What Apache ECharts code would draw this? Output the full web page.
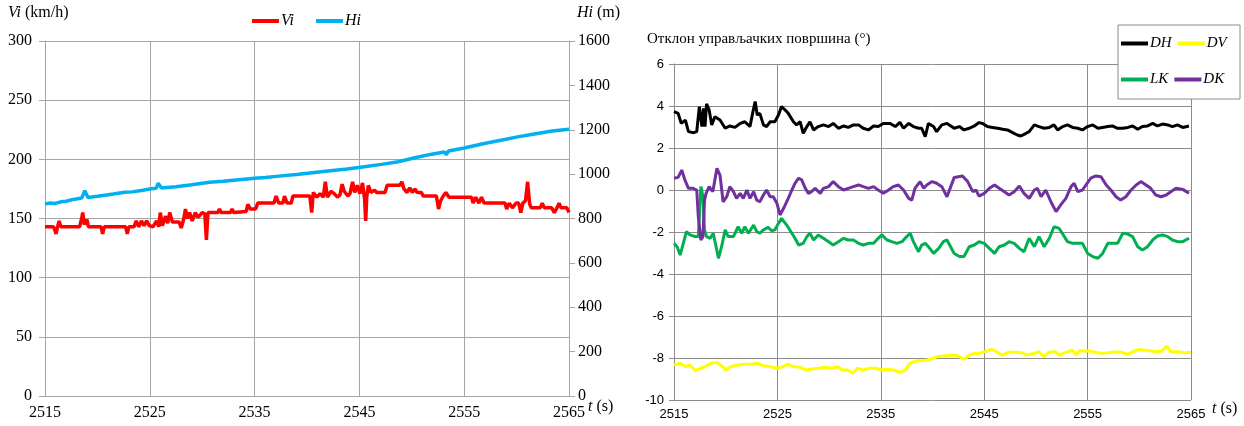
<!DOCTYPE html>
<html>
<head>
<meta charset="utf-8">
<script src="https://cdn.jsdelivr.net/npm/echarts@6/dist/echarts.min.js"></script>
<style>html,body{margin:0;padding:0;background:#fff}#c{width:1244px;height:426px}</style>
</head>
<body>
<div id="c"></div>
<script>
const xTicks = [2515, 2525, 2535, 2545, 2555, 2565];

const viData = [[2515,143],[2515.8,143],[2515.95,140],[2516.05,137],[2516.2,143],[2516.35,148],[2516.5,143],[2518.3,143],[2518.5,150],[2518.6,155],[2518.75,145],[2519,149],[2519.15,143],[2520.35,143],[2520.5,137],[2520.65,143],[2522.7,143],[2522.85,137],[2523,143],[2523.5,143],[2523.7,148],[2523.95,143],[2524.2,148],[2524.45,144],[2524.7,148],[2524.95,144],[2525.3,143],[2525.65,148],[2525.85,143],[2526,155],[2526.2,144],[2526.5,152],[2526.7,146],[2526.9,155],[2527.15,147],[2527.8,147],[2528,142],[2528.25,150],[2528.4,158],[2528.6,150],[2528.8,155],[2529.05,148],[2529.35,155],[2529.6,151],[2530,155],[2530.25,154],[2530.4,132],[2530.55,155],[2531.5,155],[2531.65,158],[2531.8,155],[2532.7,155],[2532.85,158],[2533,155],[2534.2,156],[2534.35,162],[2534.6,158],[2535.1,158],[2535.3,163],[2536.85,163],[2537.05,169],[2537.3,163],[2537.7,163],[2537.85,169],[2538.1,163],[2538.5,163],[2538.65,169],[2540.27,169],[2540.45,155],[2540.6,172],[2540.95,168],[2541.25,171],[2541.55,168],[2541.75,181],[2541.95,168],[2542.3,173],[2542.6,171],[2542.9,168],[2543.15,170],[2543.35,179],[2543.55,173],[2543.9,169],[2544.1,171],[2544.35,181],[2544.55,172],[2544.8,178],[2545.05,171],[2545.3,180],[2545.5,166],[2545.6,148],[2545.7,168],[2545.85,178],[2546.1,172],[2546.45,174],[2546.65,172],[2547.45,172],[2547.65,178],[2548.85,178],[2549.05,181],[2549.25,175],[2549.55,172],[2549.8,176],[2550.05,172],[2550.3,175],[2550.5,172],[2550.9,172],[2551.1,169],[2552.35,169],[2552.55,158],[2552.75,165],[2553,169],[2553.25,172],[2553.55,168],[2555.7,168],[2555.85,163],[2556.1,168],[2556.4,163],[2556.65,168],[2556.9,163],[2558.9,163],[2559.05,158],[2559.3,163],[2559.6,159],[2559.95,163],[2560.2,163],[2560.4,155],[2560.6,163],[2560.85,165],[2561.05,181],[2561.25,162],[2561.4,159],[2562.25,159],[2562.45,163],[2562.65,159],[2563.35,159],[2563.6,155],[2563.85,159],[2564.05,163],[2564.25,159],[2564.8,159],[2565,155]];

const hiData = [[2515,866],[2515.5,870],[2516,868],[2516.5,875],[2517,878],[2517.7,886],[2518.5,892],[2518.8,925],[2519.1,895],[2520,900],[2520.9,906],[2521.5,910],[2522.6,918],[2523.3,920],[2524.2,926],[2525,933],[2525.6,936],[2525.8,959],[2526.1,938],[2527.5,943],[2529,952],[2530.7,963],[2532,968],[2533.5,975],[2535,981],[2536,985],[2537.3,991],[2539,998],[2540.5,1006],[2542,1014],[2543.8,1023],[2545.1,1031],[2547.1,1044],[2548.7,1056],[2550.3,1074],[2551.9,1090],[2553.1,1100],[2553.3,1088],[2553.5,1104],[2555,1118],[2556.8,1137],[2558.5,1153],[2560.1,1168],[2561.7,1181],[2563.4,1194],[2565,1202]];

const dhData = [[2515,3.73],[2515.4,3.65],[2515.7,3.17],[2516.1,3.33],[2516.4,2.78],[2516.9,2.73],[2517.2,2.78],[2517.45,3.97],[2517.7,3.02],[2517.85,3.89],[2518,3.02],[2518.15,4.1],[2518.4,3.81],[2518.65,3.1],[2518.95,3.49],[2519.45,3.33],[2519.95,2.94],[2520.4,3.05],[2520.9,2.98],[2521.4,3.17],[2521.85,3.25],[2522.35,3.02],[2522.6,3.65],[2522.85,4.21],[2523.05,3.57],[2523.3,3.65],[2523.65,3.1],[2523.95,3.02],[2524.3,3.25],[2524.75,3.25],[2525.1,3.57],[2525.4,3.97],[2525.75,3.81],[2526.05,3.65],[2526.55,3.25],[2526.85,3.1],[2527.2,3.25],[2527.5,2.7],[2527.85,3.02],[2528.15,3.25],[2528.5,2.86],[2528.95,3.02],[2529.45,3.1],[2529.95,3.02],[2530.4,3.17],[2530.9,2.94],[2531.4,3.05],[2531.85,2.98],[2532.35,3.1],[2532.85,3.1],[2533.3,2.94],[2533.8,2.86],[2534.3,3.05],[2534.75,3.02],[2535.25,3.17],[2535.9,3.17],[2536.4,3.02],[2536.85,3.22],[2537.2,2.94],[2537.7,3.17],[2538.15,3.02],[2538.65,2.94],[2538.95,2.94],[2539.3,2.54],[2539.6,3.17],[2540.1,3.02],[2540.4,2.78],[2540.9,3.1],[2541.4,3.17],[2542.1,2.94],[2542.6,3.02],[2543.05,2.86],[2543.55,2.94],[2544.05,3.05],[2544.5,3.21],[2544.85,3.17],[2545.3,3.02],[2545.8,2.98],[2546.3,2.94],[2546.8,2.89],[2547.25,2.86],[2547.75,2.73],[2548.2,2.62],[2548.55,2.57],[2549.05,2.7],[2549.35,2.78],[2549.85,3.1],[2550.3,3.02],[2550.8,2.94],[2551.3,2.98],[2551.75,3.1],[2552.1,2.86],[2552.6,3.02],[2553.05,3.1],[2553.55,2.98],[2554.05,2.94],[2554.5,2.86],[2555,3.02],[2555.5,3.1],[2556,2.94],[2556.45,2.98],[2556.95,3.02],[2557.4,3.05],[2557.9,2.94],[2558.4,2.94],[2558.9,2.98],[2559.35,3.05],[2559.85,2.89],[2560.3,3.02],[2560.8,3.05],[2561.3,3.17],[2561.75,3.05],[2562.25,3.14],[2562.75,3.1],[2563.2,3.02],[2563.7,3.1],[2564.2,2.98],[2564.8,3.05]];

const dvData = [[2515,-8.33],[2515.6,-8.25],[2516.1,-8.41],[2516.55,-8.33],[2517.05,-8.6],[2517.55,-8.49],[2518.05,-8.41],[2518.55,-8.25],[2519.2,-8.21],[2519.7,-8.41],[2520,-8.57],[2520.5,-8.41],[2521.15,-8.33],[2521.8,-8.3],[2522.6,-8.29],[2523.1,-8.25],[2523.6,-8.37],[2524.25,-8.41],[2525,-8.49],[2525.55,-8.41],[2526,-8.29],[2526.55,-8.41],[2527.2,-8.44],[2527.7,-8.57],[2528.35,-8.52],[2529,-8.49],[2529.65,-8.44],[2530.3,-8.49],[2530.8,-8.41],[2531.3,-8.57],[2531.8,-8.57],[2532.3,-8.73],[2532.75,-8.49],[2533.25,-8.57],[2533.9,-8.49],[2534.55,-8.49],[2535.05,-8.57],[2535.55,-8.54],[2536.2,-8.57],[2536.85,-8.68],[2537.35,-8.57],[2537.85,-8.25],[2538.5,-8.13],[2539.15,-8.13],[2539.8,-8.06],[2540.45,-7.94],[2541.1,-7.9],[2541.75,-7.86],[2542.4,-7.89],[2543.05,-8.06],[2543.55,-7.86],[2544.05,-7.78],[2544.55,-7.78],[2545.05,-7.7],[2545.7,-7.59],[2546.2,-7.7],[2546.7,-7.86],[2547.35,-7.73],[2548,-7.73],[2548.65,-7.75],[2549.15,-7.86],[2549.8,-7.78],[2550.3,-7.7],[2550.75,-7.94],[2551.25,-7.73],[2551.9,-7.7],[2552.25,-7.86],[2552.9,-7.73],[2553.55,-7.62],[2553.9,-7.86],[2554.2,-7.65],[2555.1,-7.67],[2555.7,-7.73],[2556.35,-7.78],[2557,-7.75],[2557.65,-7.71],[2558.3,-7.73],[2558.8,-7.83],[2559.45,-7.7],[2559.95,-7.59],[2560.4,-7.62],[2561.05,-7.65],[2561.7,-7.7],[2562.2,-7.67],[2562.65,-7.43],[2563.05,-7.7],[2563.7,-7.7],[2564.35,-7.75],[2565,-7.73]];

const lkData = [[2515,-2.54],[2515.3,-2.7],[2515.6,-3.1],[2515.9,-2.54],[2516.2,-1.98],[2516.55,-2.14],[2517.05,-2.22],[2517.35,-2.22],[2517.6,0.16],[2517.8,-0.32],[2517.95,-1.9],[2518.15,-2.22],[2518.5,-2.3],[2518.8,-2.06],[2519.3,-3.25],[2519.6,-2.7],[2519.95,-1.9],[2520.25,-2.22],[2520.75,-2.22],[2521.2,-1.75],[2521.55,-2.06],[2521.85,-1.75],[2522.2,-2.06],[2522.7,-1.67],[2523,-1.98],[2523.3,-2.06],[2523.65,-1.9],[2524.1,-1.78],[2524.45,-1.94],[2524.75,-1.9],[2525.1,-1.59],[2525.4,-1.35],[2525.9,-1.67],[2526.4,-2.06],[2526.7,-2.3],[2527.05,-2.62],[2527.5,-2.54],[2527.85,-2.22],[2528.15,-2.06],[2528.5,-2.38],[2528.95,-2.14],[2529.45,-2.3],[2529.95,-2.46],[2530.4,-2.62],[2530.9,-2.46],[2531.4,-2.3],[2531.85,-2.38],[2532.35,-2.38],[2532.85,-2.54],[2533.3,-2.62],[2533.8,-2.54],[2534.3,-2.54],[2534.75,-2.3],[2535.1,-2.14],[2535.6,-2.38],[2536.05,-2.46],[2536.55,-2.54],[2537.05,-2.46],[2537.5,-2.22],[2537.85,-2.06],[2538.15,-2.46],[2538.65,-2.94],[2538.95,-2.62],[2539.3,-2.54],[2539.6,-2.7],[2540.1,-3.02],[2540.6,-2.78],[2541.05,-2.46],[2541.4,-2.38],[2542.1,-3.02],[2542.6,-3.17],[2543.05,-3.17],[2543.55,-2.7],[2544.05,-2.62],[2544.5,-2.46],[2545,-2.54],[2545.5,-2.78],[2546,-3.02],[2546.45,-2.7],[2546.95,-2.62],[2547.4,-2.46],[2547.9,-2.54],[2548.4,-2.78],[2548.85,-2.94],[2549.35,-2.3],[2549.85,-2.7],[2550.3,-2.22],[2550.8,-2.7],[2551.3,-2.3],[2551.75,-1.75],[2552.25,-1.83],[2552.75,-2.22],[2553.05,-2.46],[2553.55,-2.54],[2554.05,-2.54],[2554.5,-2.54],[2555,-3.02],[2555.5,-3.17],[2556,-3.25],[2556.45,-3.02],[2556.95,-2.54],[2557.4,-2.54],[2557.9,-2.54],[2558.4,-2.06],[2558.9,-2.1],[2559.35,-2.22],[2559.85,-2.7],[2560.3,-2.86],[2560.8,-2.7],[2561.3,-2.38],[2561.75,-2.19],[2562.25,-2.14],[2562.75,-2.22],[2563.2,-2.38],[2563.7,-2.46],[2564.2,-2.46],[2564.8,-2.3]];

const dkData = [[2515,0.56],[2515.4,0.6],[2515.75,0.95],[2516.05,0.48],[2516.4,0.08],[2516.85,0.08],[2517.2,0],[2517.35,-1.27],[2517.6,-2.38],[2517.8,-2.22],[2517.95,-0.48],[2518.1,-0.16],[2518.4,0.16],[2518.75,-0.08],[2519.15,1.03],[2519.45,0.71],[2519.75,-0.56],[2520.1,-0.32],[2520.4,0.16],[2520.75,-0.08],[2521.05,-0.4],[2521.4,-0.16],[2521.7,-0.4],[2522.05,0],[2522.35,-0.4],[2522.7,-0.08],[2523,-0.48],[2523.3,-0.56],[2523.65,-0.24],[2523.95,0],[2524.3,-0.32],[2524.6,-0.32],[2524.95,-0.63],[2525.25,-1.19],[2525.6,-0.87],[2526.05,-0.4],[2526.4,0],[2526.7,0.32],[2527.05,0.56],[2527.35,0.48],[2527.7,0.08],[2528,-0.16],[2528.3,-0.08],[2528.65,0.08],[2529.15,-0.16],[2529.45,0.08],[2529.95,0.16],[2530.4,0.4],[2530.9,0.16],[2531.4,0],[2531.85,0.08],[2532.35,0.16],[2532.85,0.24],[2533.3,0.16],[2533.8,0.08],[2534.3,0.16],[2534.75,0],[2535.25,-0.16],[2535.75,0],[2536.2,0.16],[2536.7,0.24],[2537.2,0],[2537.7,-0.4],[2538,-0.48],[2538.3,0.08],[2538.8,0.4],[2539.15,0.08],[2539.45,0.24],[2539.95,0.4],[2540.4,0.32],[2540.9,0.16],[2541.4,-0.32],[2542.1,0.6],[2542.9,0.67],[2543.4,0.4],[2543.9,-0.08],[2544.2,0],[2544.5,-0.29],[2545,-0.16],[2545.5,0.08],[2546,0.24],[2546.45,0.08],[2546.95,-0.08],[2547.4,-0.24],[2547.9,-0.08],[2548.4,0.19],[2548.85,-0.16],[2549.35,-0.4],[2549.85,0],[2550.15,0.08],[2550.5,-0.32],[2550.95,0],[2551.45,-0.56],[2551.95,-1.03],[2552.4,-0.71],[2552.9,-0.4],[2553.4,0.16],[2553.7,0.32],[2554.05,-0.08],[2554.5,0],[2554.85,0.24],[2555.3,0.56],[2555.8,0.67],[2556.3,0.63],[2556.8,0.24],[2557.25,0],[2557.75,-0.32],[2558.2,-0.48],[2558.7,-0.32],[2559.2,0],[2559.7,0.24],[2560.15,0.4],[2560.65,0.24],[2561.1,0.08],[2561.6,-0.24],[2562.1,-0.32],[2562.6,-0.24],[2563.05,-0.08],[2563.55,0.08],[2564.2,0.03],[2564.8,-0.16]];

const SERIF = '"Liberation Serif", "Times New Roman", serif';
const SANS = '"Liberation Sans", Arial, sans-serif';
const gridL = '#a6a6a6';
const gridR = '#8c8c8c';
const plain = v => String(v);

const chart = echarts.init(document.getElementById('c'), null, {renderer: 'canvas'});

function legendCfg(data, left, top, gap, size) {
  return {
    data: data, left: left, top: top, icon: 'rect', itemWidth: 27, itemHeight: 4, itemGap: gap,
    textStyle: {fontFamily: SERIF, fontStyle: 'italic', fontSize: size, color: '#000', padding: [0, 0, 0, -3]},
    selectedMode: false, padding: 0
  };
}

const option = {
  backgroundColor: '#fff',
  animation: false,
  grid: [
    {left: 45, right: 675, top: 41, bottom: 30, containLabel: false},
    {left: 674, right: 53, top: 64, bottom: 26, containLabel: false}
  ],
  legend: [
    legendCfg(['Vi', 'Hi'], 252, 13, 22, 16),
    legendCfg(['DH', 'DV'], 1121, 36, 6, 15),
    legendCfg(['LK', 'DK'], 1121, 72, 6, 15)
  ],
  xAxis: [
    {
      type: 'value', gridIndex: 0, min: xTicks[0], max: xTicks[xTicks.length - 1], interval: 10,
      axisLine: {lineStyle: {color: gridL, width: 1}}, axisTick: {show: false},
      axisLabel: {fontFamily: SERIF, fontSize: 16, color: '#000', margin: 9, formatter: plain},
      splitLine: {show: true, lineStyle: {color: gridL, width: 1}}
    },
    {
      type: 'value', gridIndex: 1, min: xTicks[0], max: xTicks[xTicks.length - 1], interval: 10,
      axisLine: {lineStyle: {color: gridR, width: 1}}, axisTick: {show: false},
      axisLabel: {fontFamily: SANS, fontSize: 13, color: '#000', margin: 8, formatter: plain},
      splitLine: {show: true, lineStyle: {color: gridR, width: 1}}
    }
  ],
  yAxis: [
    {
      type: 'value', gridIndex: 0, min: 0, max: 300, interval: 50,
      axisLine: {show: true, lineStyle: {color: gridL}}, axisTick: {show: true, length: 6, lineStyle: {color: gridL}},
      axisLabel: {fontFamily: SERIF, fontSize: 16, color: '#000', margin: 13, formatter: plain},
      splitLine: {show: true, lineStyle: {color: gridL}}
    },
    {
      type: 'value', gridIndex: 0, position: 'right', min: 0, max: 1600, interval: 200,
      axisLine: {show: true, lineStyle: {color: gridL}}, axisTick: {show: true, length: 6, lineStyle: {color: gridL}},
      axisLabel: {fontFamily: SERIF, fontSize: 16, color: '#000', margin: 9, formatter: plain},
      splitLine: {show: false}
    },
    {
      type: 'value', gridIndex: 1, min: -10, max: 6, interval: 2,
      axisLine: {show: true, lineStyle: {color: gridR}}, axisTick: {show: true, length: 5, lineStyle: {color: gridR}},
      axisLabel: {fontFamily: SANS, fontSize: 13, color: '#000', margin: 10, formatter: plain},
      splitLine: {show: true, lineStyle: {color: gridR}}
    }
  ],
  series: [
    {name: 'Hi', type: 'line', xAxisIndex: 0, yAxisIndex: 1, data: hiData, showSymbol: false, symbol: 'none', color: '#00b0f0', lineStyle: {width: 3.5, color: '#00b0f0'}, z: 2},
    {name: 'Vi', type: 'line', xAxisIndex: 0, yAxisIndex: 0, data: viData, showSymbol: false, symbol: 'none', color: '#ff0000', lineStyle: {width: 3.5, color: '#ff0000'}, z: 3},
    {name: 'DH', type: 'line', xAxisIndex: 1, yAxisIndex: 2, data: dhData, showSymbol: false, symbol: 'none', color: '#000000', lineStyle: {width: 3, color: '#000000'}},
    {name: 'DV', type: 'line', xAxisIndex: 1, yAxisIndex: 2, data: dvData, showSymbol: false, symbol: 'none', color: '#ffff00', lineStyle: {width: 3, color: '#ffff00'}},
    {name: 'LK', type: 'line', xAxisIndex: 1, yAxisIndex: 2, data: lkData, showSymbol: false, symbol: 'none', color: '#00b050', lineStyle: {width: 3, color: '#00b050'}},
    {name: 'DK', type: 'line', xAxisIndex: 1, yAxisIndex: 2, data: dkData, showSymbol: false, symbol: 'none', color: '#7030a0', lineStyle: {width: 3, color: '#7030a0'}}
  ],
  graphic: [
    {type: 'rect', z: 3, shape: {x: 1118, y: 25, width: 122, height: 74}, style: {fill: '#fff', stroke: '#8c8c8c', lineWidth: 1}},
    {type: 'text', x: 8, y: 5, z: 5, style: {text: '{i|Vi} (km/h)', fontFamily: SERIF, fontSize: 16, fill: '#000', rich: {i: {fontStyle: 'italic', fontFamily: SERIF, fontSize: 16}}}},
    {type: 'text', x: 577, y: 5, z: 5, style: {text: '{i|Hi} (m)', fontFamily: SERIF, fontSize: 16, fill: '#000', rich: {i: {fontStyle: 'italic', fontFamily: SERIF, fontSize: 16}}}},
    {type: 'text', x: 588, y: 399, z: 5, style: {text: '{i|t} (s)', fontFamily: SERIF, fontSize: 16, fill: '#000', rich: {i: {fontStyle: 'italic', fontFamily: SERIF, fontSize: 16}}}},
    {type: 'text', x: 1212, y: 401, z: 5, style: {text: '{i|t} (s)', fontFamily: SERIF, fontSize: 16, fill: '#000', rich: {i: {fontStyle: 'italic', fontFamily: SERIF, fontSize: 16}}}},
    {type: 'text', x: 647, y: 32, z: 5, style: {text: 'Отклон управљачких површина (°)', fontFamily: SERIF, fontSize: 15, fill: '#000'}}
  ]
};
chart.setOption(option);
</script>
</body>
</html>
